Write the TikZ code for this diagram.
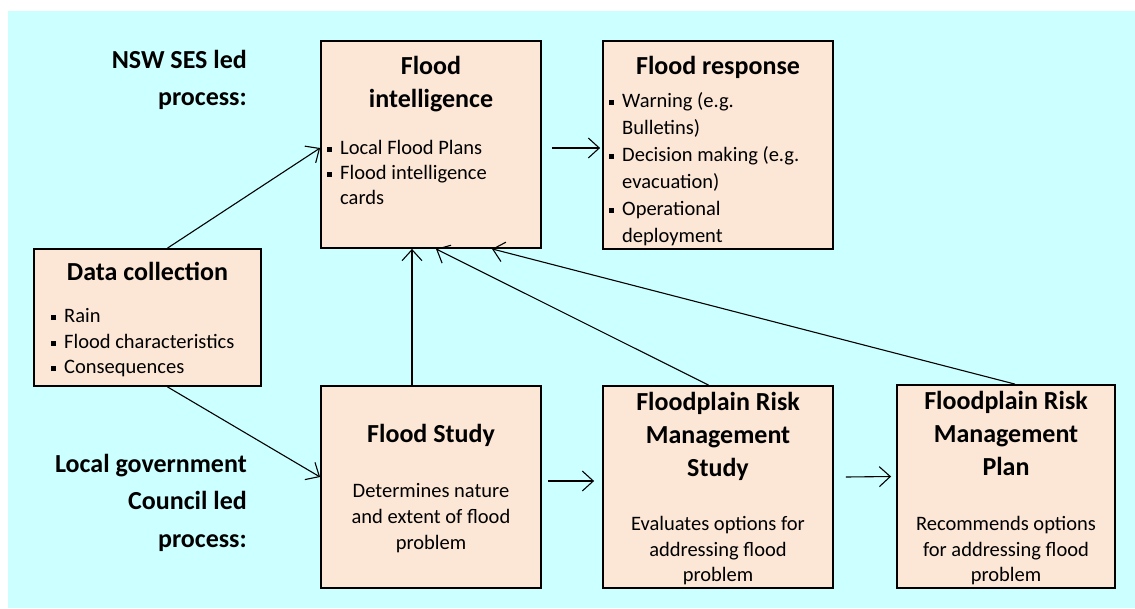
\documentclass[tikz,border=0pt]{standalone}
\usepackage{fontspec}
\setmainfont{Carlito}
\usetikzlibrary{arrows.meta,positioning}
\definecolor{PaleCyan}{RGB}{204,255,255}
\definecolor{Peach}{RGB}{252,230,214}
\newcommand{\bul}{\makebox[13pt][l]{\rule[2.5pt]{5pt}{5pt}}}
\newcommand{\ind}{\hspace*{13pt}}

\begin{document}
\begin{tikzpicture}[x=1pt, y=-1pt,
	box/.style={draw, line width=1.8pt, fill=Peach, inner sep=0pt},
	title/.style={font=\bfseries\fontsize{26}{33}\selectfont, align=center, inner sep=0pt},
	body/.style={font=\fontsize{20.5}{25}\selectfont, align=left, inner sep=0pt, anchor=north west},
	desc/.style={font=\fontsize{20.5}{25.5}\selectfont, align=center, inner sep=0pt, anchor=north},
	side/.style={font=\bfseries\fontsize{26}{37.5}\selectfont, align=right, inner sep=0pt, anchor=north east},
	flow/.style={-{Straight Barb[length=11pt,width=20pt,line width=1.1pt]}, line width=1.1pt}]
	\useasboundingbox (0,0) rectangle (1135,608);
	\fill[PaleCyan] (8,11) rectangle (1135,608);
	
	% Kaesten
	\node[box, minimum width=220pt, minimum height=207pt] (fi) at (431,144.5) {};
	\node[box, minimum width=230pt, minimum height=208pt] (fr) at (718,145) {};
	\node[box, minimum width=227pt, minimum height=137pt] (dc) at (147.5,317.5) {};
	\node[box, minimum width=220pt, minimum height=202pt] (fs) at (431,487) {};
	\node[box, minimum width=230pt, minimum height=202pt] (frms) at (718,487) {};
	\node[box, minimum width=218pt, minimum height=203pt] (frmp) at (1006,486.5) {};
	
	% Ueberschriften
	\node[title, below=10.7pt of fi.north] (fiT) {\strut Flood\\intelligence};
	\node[title, below=10.7pt of fr.north] (frT) {\strut Flood response};
	\node[title, below=8.7pt of dc.north] (dcT) {\strut Data collection};
	\node[title, below=33.7pt of fs.north] (fsT) {\strut Flood Study};
	\node[title, below=2.4pt of frms.north] (frmsT) {\strut Floodplain Risk\\Management\\Study};
	\node[title, below=2.4pt of frmp.north] (frmpT) {\strut Floodplain Risk\\Management\\Plan};
	
	% Aufzaehlungen
	\node[body] (fiL) at (327,136.5) {\strut\bul Local Flood Plans\\ \bul Flood intelligence\\ \ind cards};
	\node[body, font=\fontsize{20.5}{27}\selectfont] (frL) at (609,88) {\strut\bul Warning (e.g.\\ \ind Bulletins)\\ \bul Decision making (e.g.\\ \ind evacuation)\\ \bul Operational\\ \ind deployment};
	\node[body, font=\fontsize{20.5}{25.5}\selectfont] (dcL) at (51,304.5) {\strut\bul Rain\\ \bul Flood characteristics\\ \bul Consequences};
	
	% Beschreibungen
	\node[desc, font=\fontsize{20.5}{26}\selectfont] (fsD) at (431,478.8) {\strut Determines nature\\and extent of flood\\problem};
	\node[desc] (frmsD) at (718,512.5) {\strut Evaluates options for\\addressing flood\\problem};
	\node[desc] (frmpD) at (1006,512.5) {\strut Recommends options\\for addressing flood\\problem};
	
	% Seitenbeschriftung
	\node[side] (ses) at (247,42) {\strut NSW SES led\\process:};
	\node[side] (lg) at (247,446) {\strut Local government\\Council led\\process:};
	
	% Pfeile
	\draw[flow] ([xshift=20pt]dc.north) -- ([yshift=-3.5pt]fi.west);
	\draw[flow] ([xshift=10pt,yshift=-3.5pt]fi.east) -- ([xshift=-2pt,yshift=-3pt]fr.west);
	\draw[flow] ([xshift=20pt]dc.south) -- ([yshift=10pt]fs.west);
	\draw[flow] ([xshift=-19pt]fs.north) -- ([xshift=-19pt]fi.south);
	\draw[flow] ([xshift=-9.5pt]frms.north) -- ([xshift=5pt]fi.south);
	\draw[flow] ([xshift=9pt]frmp.north) -- ([xshift=61pt]fi.south);
	\draw[flow] ([xshift=6pt,yshift=6pt]fs.east) -- ([xshift=-8pt,yshift=6pt]frms.west);
	\draw[flow] ([xshift=12pt,yshift=10pt]frms.east) -- ([xshift=-5pt,yshift=10pt]frmp.west);
\end{tikzpicture}
\end{document}
